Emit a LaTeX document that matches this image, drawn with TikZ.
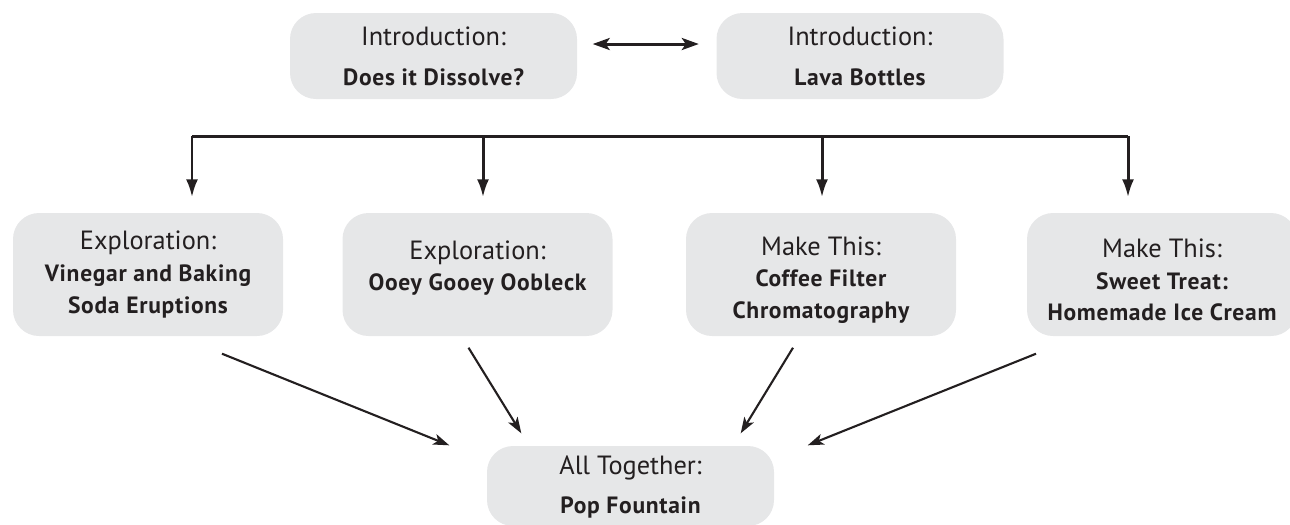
\documentclass[tikz,border=0pt]{standalone}
\usepackage{fontspec}
\setmainfont{PT Sans}
\usetikzlibrary{arrows.meta,calc}

\definecolor{boxgray}{HTML}{E6E7E8}
\definecolor{ink}{HTML}{231F20}
\newfontfamily\subfam{PT Sans}[LetterSpace=3]
\newcommand\subsw{\subfam\bfseries\fontsize{6.7}{9}\selectfont}

\tikzset{
  stage/.style={fill=boxgray, rounded corners=2.6mm, align=center, text=ink, inner sep=0pt,
    font=\fontsize{7.5}{9}\selectfont},
  intro/.style={stage, minimum width=28.7mm, minimum height=8.6mm},
  activity/.style={stage, minimum width=27mm, minimum height=12.3mm},
  feed/.style={draw=ink, line width=0.85pt, -{Latex[length=1.8mm,width=1.2mm]}},
  pair/.style={draw=ink, line width=0.85pt, {Stealth[length=1.7mm,width=1.2mm,inset=0.4mm]}-{Stealth[length=1.7mm,width=1.2mm,inset=0.4mm]}},
  merge/.style={draw=ink, line width=0.6pt, -{Stealth[length=1.6mm,width=1.1mm,inset=0.4mm]}}
}

\begin{document}
\begin{tikzpicture}[x=0.1mm,y=-0.1mm]
\useasboundingbox (0,0) rectangle (1290,524);
% introductions
\node[intro] (i1) at (433.5,56) {Introduction:\\[2.4pt]\subsw Does it Dissolve?};
\node[intro] (i2) at (860,56) {Introduction:\\[2.4pt]\subsw Lava Bottles};
\draw[pair] ($(i1.east)+(15,-12)$) -- ($(i2.west)+(-17,-12)$);
% activities
\node[activity] (b1) at (148,274.5) {Exploration:\\\subsw Vinegar and Baking\\\subsw Soda Eruptions};
\node[activity] (b2) at (477.5,274.5) {Exploration:\\\subsw Ooey Gooey Oobleck\\[-4pt]\mbox{}};
\node[activity] (b3) at (821,274.5) {\mbox{}\\[-0.5pt]Make This:\\\subsw Coffee Filter\\\subsw Chromatography};
\node[activity] (b4) at (1162,274.5) {\mbox{}\\[-0.5pt]Make This:\\\subsw Sweet Treat:\\\subsw Homemade Ice Cream};
\node[intro, minimum height=8mm] (pop) at (630.5,486) {\mbox{}\\[-3pt]All Together:\\[2pt]\subsw Pop Fountain};
% bar and drops
\foreach \i/\x in {1/192, 2/483, 3/822, 4/1128}
  \coordinate (j\i) at (\x,136);
\draw[ink, line width=0.85pt] (j1) -- (j4);
\foreach \i in {1,...,4}
  \draw[feed, shorten >=1.5mm] (j\i) -- (j\i |- b\i.north);
% into the fountain
\draw[merge] ($(b1.south)+(74,17)$) -- ($(pop.north west)+(-37,0)$);
\draw[merge] ($(b2.south)+(-9,11)$) -- ($(pop.north west)+(35,-12)$);
\draw[merge] ($(b3.south)+(-28,11)$) -- ($(pop.north east)+(-34,-12)$);
\draw[merge] ($(b4.south)+(-126,17)$) -- ($(pop.north east)+(33,0)$);
\end{tikzpicture}
\end{document}
